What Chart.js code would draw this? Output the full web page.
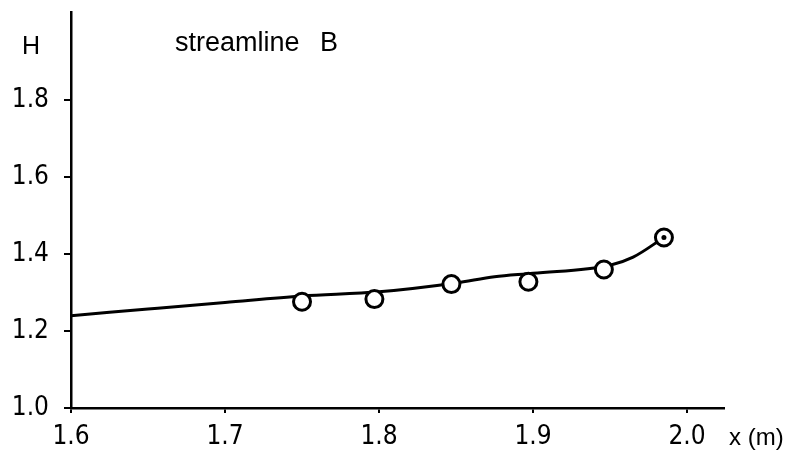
<!DOCTYPE html>
<html>
<head>
<meta charset="utf-8">
<script src="https://cdn.jsdelivr.net/npm/chart.js@4"></script>
<style>
  html, body { margin: 0; padding: 0; background: #fff; }
  #wrap { width: 809px; height: 462px; }
</style>
</head>
<body>
<div id="wrap"><canvas id="chart" width="809" height="462"></canvas></div>
<script>
// fitted curve through the measurements
const curveX = [1.6, 1.65, 1.7, 1.75, 1.8, 1.85, 1.875, 1.9, 1.95, 1.965, 1.985];
const curveH = [1.24, 1.257, 1.274, 1.291, 1.302, 1.325, 1.341, 1.35, 1.371, 1.392, 1.443];

// measured points (open circles)
const pointX = [1.75, 1.797, 1.847, 1.897, 1.946, 1.985];
const pointH = [1.276, 1.283, 1.322, 1.328, 1.36, 1.443];

// last point carries a dot in the middle
const dotX = [1.985];
const dotH = [1.443];

const xTicks = [1.6, 1.7, 1.8, 1.9, 2.0];
const yTicks = [1.0, 1.2, 1.4, 1.6, 1.8];

const tickFont = { family: "'Liberation Sans Narrow', 'DejaVu Sans Condensed', 'Liberation Sans', sans-serif", size: 26 };

function toXY(xs, ys) {
	return xs.map((x, i) => ({ x: x, y: ys[i] }));
}

// H label, title and x unit drawn as text on the canvas
const labels = {
	id: 'labels',
	afterDraw(chart) {
		const ctx = chart.ctx;
		ctx.save();
		ctx.fillStyle = '#000';
		ctx.textBaseline = 'middle';
		ctx.font = "25px 'Liberation Sans Narrow', 'Liberation Sans', sans-serif";
		ctx.fillText('H', 22, 47);
		ctx.font = "27px 'Liberation Sans', sans-serif";
		ctx.fillText('streamline', 175, 44);
		ctx.fillText('B', 320, 44);
		ctx.font = "24px 'Liberation Sans', sans-serif";
		ctx.fillText('x (m)', 729, 438);
		ctx.restore();
	}
};

new Chart(document.getElementById('chart'), {
	type: 'scatter',
	data: {
		datasets: [
			{
				label: 'curve',
				data: toXY(curveX, curveH),
				showLine: true,
				borderColor: '#000',
				borderWidth: 3,
				pointRadius: 0,
				cubicInterpolationMode: 'monotone',
				order: 3
			},
			{
				label: 'H',
				data: toXY(pointX, pointH),
				pointRadius: 8.5,
				pointBorderWidth: 3,
				borderColor: '#000',
				backgroundColor: '#fff',
				order: 2
			},
			{
				label: 'dot',
				data: toXY(dotX, dotH),
				pointRadius: 2.5,
				pointBorderWidth: 0,
				borderColor: '#000',
				backgroundColor: '#000',
				order: 1
			}
		]
	},
	options: {
		responsive: false,
		animation: false,
		events: [],
		layout: {
			padding: { top: 12, right: 85, bottom: 0, left: 0 }
		},
		plugins: {
			legend: { display: false },
			tooltip: { enabled: false }
		},
		scales: {
			x: {
				type: 'linear',
				min: 1.6,
				max: 2.024,
				afterBuildTicks: (s) => { s.ticks = xTicks.map((v) => ({ value: v })); },
				afterFit: (s) => {
					s.height = 54;
					s.paddingLeft = 0;
					s.paddingRight = 0;
				},
				border: { display: true, color: '#000', width: 2.5 },
				grid: { drawOnChartArea: false, color: '#000', lineWidth: 2, tickLength: 5 },
				ticks: {
					color: '#000',
					font: tickFont,
					padding: 9,
					maxRotation: 0,
					callback: (v) => v.toFixed(1)
				}
			},
			y: {
				type: 'linear',
				min: 1.0,
				max: 2.029,
				afterBuildTicks: (s) => { s.ticks = yTicks.map((v) => ({ value: v })); },
				afterFit: (s) => {
					s.width = 71;
					s.paddingTop = 0;
					s.paddingBottom = 0;
				},
				border: { display: true, color: '#000', width: 2.5 },
				grid: { drawOnChartArea: false, color: '#000', lineWidth: 2, tickLength: 7 },
				ticks: {
					color: '#000',
					font: tickFont,
					padding: 15,
					callback: (v) => v.toFixed(1)
				}
			}
		}
	},
	plugins: [labels]
});
</script>
</body>
</html>
